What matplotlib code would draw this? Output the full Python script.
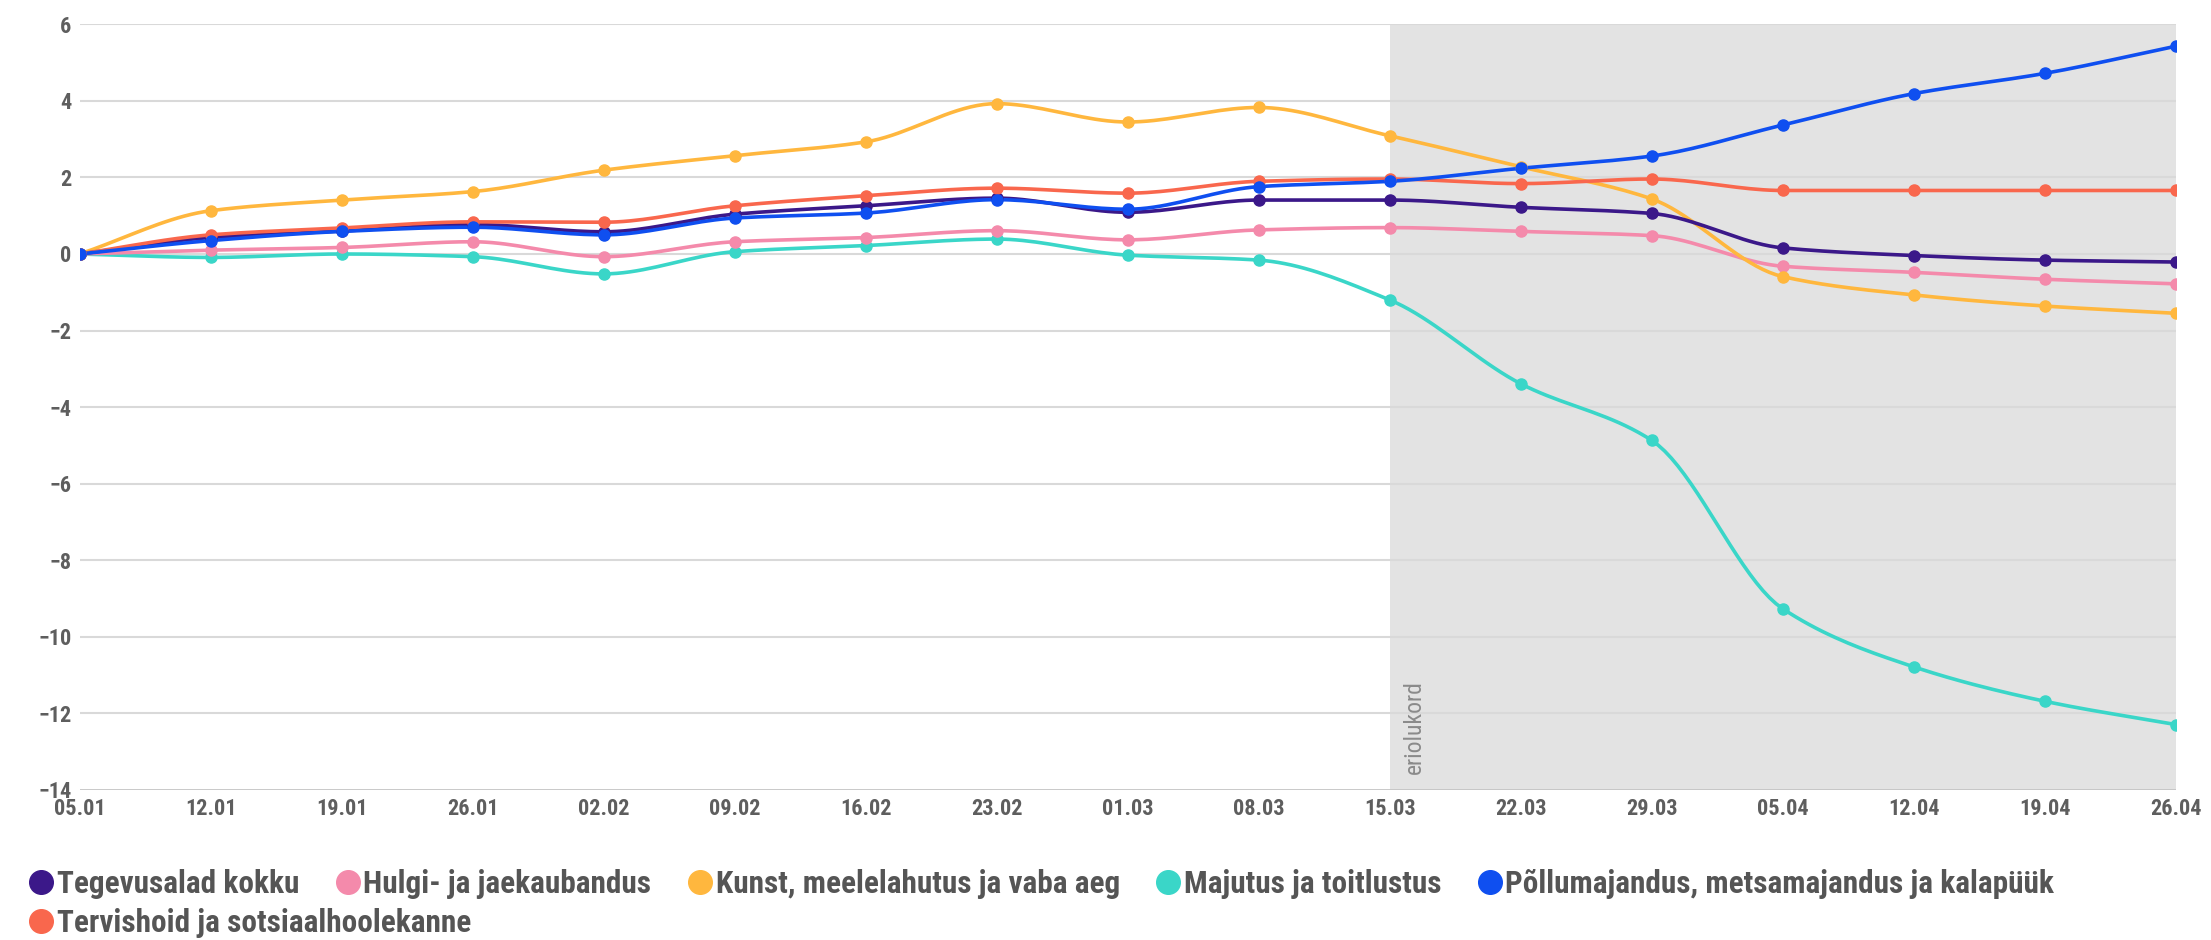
import numpy as np
import matplotlib
matplotlib.use("Agg")
from matplotlib import pyplot as plt
from matplotlib.lines import Line2D

dates = ["05.01", "12.01", "19.01", "26.01", "02.02", "09.02", "16.02", "23.02", "01.03",
         "08.03", "15.03", "22.03", "29.03", "05.04", "12.04", "19.04", "26.04"]

names = ["Tegevusalad kokku", "Hulgi- ja jaekaubandus", "Kunst, meelelahutus ja vaba aeg",
         "Majutus ja toitlustus", "Põllumajandus, metsamajandus ja kalapüük",
         "Tervishoid ja sotsiaalhoolekanne"]

kokku = [0, 0.43, 0.6, 0.77, 0.58, 1.04, 1.26, 1.46, 1.09, 1.41, 1.41, 1.22, 1.06, 0.16, -0.04, -0.16, -0.21]
hulgi = [0, 0.1, 0.17, 0.32, -0.07, 0.32, 0.43, 0.61, 0.37, 0.63, 0.69, 0.59, 0.48, -0.32, -0.48, -0.66, -0.78]
kunst = [0, 1.13, 1.41, 1.63, 2.19, 2.57, 2.93, 3.93, 3.45, 3.83, 3.09, 2.28, 1.44, -0.59, -1.07, -1.36, -1.55]
majutus = [0, -0.09, 0, -0.07, -0.52, 0.06, 0.22, 0.39, -0.03, -0.16, -1.2, -3.39, -4.87, -9.27, -10.79, -11.69, -12.3]
pollu = [0, 0.35, 0.59, 0.7, 0.5, 0.94, 1.07, 1.42, 1.17, 1.76, 1.9, 2.24, 2.56, 3.37, 4.19, 4.72, 5.43]
tervis = [0, 0.5, 0.68, 0.84, 0.83, 1.26, 1.52, 1.72, 1.59, 1.9, 1.96, 1.84, 1.96, 1.66, 1.66, 1.66, 1.66]

series = [kokku, hulgi, kunst, majutus, pollu, tervis]
colors = ["#3b1889", "#f48aab", "#ffb73e", "#3ad6c8", "#0f4ff0", "#f9674d"]
draw_order = [3, 1, 2, 0, 5, 4]

special_start = "15.03"
special_label = "eriolukord"

plt.rcParams['font.family'] = ['Roboto Condensed', 'Liberation Sans Narrow', 'Roboto', 'DejaVu Sans']


def monotone(x, y, n=20):
    # monotone cubic (Fritsch-Carlson) for drawing smooth lines
    x = np.asarray(x, float)
    y = np.asarray(y, float)
    h = np.diff(x)
    d = np.diff(y) / h
    m = np.zeros_like(y)
    m[0], m[-1] = d[0], d[-1]
    for i in range(1, len(y) - 1):
        if d[i - 1] * d[i] <= 0:
            m[i] = 0
        else:
            w1 = 2 * h[i] + h[i - 1]
            w2 = h[i] + 2 * h[i - 1]
            m[i] = (w1 + w2) / (w1 / d[i - 1] + w2 / d[i])
    xs, ys = [], []
    for i in range(len(x) - 1):
        t = np.linspace(0, 1, n, endpoint=False)
        h00 = 2 * t**3 - 3 * t**2 + 1
        h10 = t**3 - 2 * t**2 + t
        h01 = -2 * t**3 + 3 * t**2
        h11 = t**3 - t**2
        xs.append(x[i] + t * h[i])
        ys.append(h00 * y[i] + h10 * h[i] * m[i] + h01 * y[i + 1] + h11 * h[i] * m[i + 1])
    xs.append([x[-1]])
    ys.append([y[-1]])
    return np.concatenate(xs), np.concatenate(ys)


fig = plt.figure(figsize=(22.11, 9.40), dpi=100)
ax = fig.add_axes([0.036, 0.16, 0.948, 0.814])

x = np.arange(len(dates))
ax.axvspan(dates.index(special_start), x[-1], color="#e3e3e3", zorder=0, lw=0)

for i in draw_order:
    sx, sy = monotone(x, series[i])
    ax.plot(sx, sy, color=colors[i], lw=2.6, zorder=3, solid_capstyle="round")
    ax.plot(x, series[i], "o", color=colors[i], ms=8, zorder=4)

ax.set_xlim(x[0], x[-1])
ax.set_ylim(-14, 6)
ax.set_yticks(range(-14, 7, 2))
ax.set_xticks(x)
ax.set_xticklabels(dates)
for yv in range(-12, 7, 2):
    ax.axhline(yv, color="#d9d9d9", lw=1.5, zorder=1)
ax.axhline(-14, color="#c4c4c4", lw=2, zorder=1)
for s in ax.spines.values():
    s.set_visible(False)
ax.tick_params(length=0, labelsize=16, labelcolor="#5e5e5e", pad=6)
for lab in ax.get_xticklabels() + ax.get_yticklabels():
    lab.set_fontweight("bold")

ax.text(dates.index(special_start) + 0.1, -13.6, special_label, rotation=90, ha="left", va="bottom",
        fontsize=17, color="#8a8a8a", zorder=5)

handles = [Line2D([], [], marker="o", ls="", color=c, ms=17) for c in colors]
leg_kw = dict(loc="center left", frameon=False, handletextpad=0.0, handlelength=1.0,
              prop={"size": 22.5, "weight": "bold"}, labelcolor="#555555", borderaxespad=0)
fig.legend(handles[:5], names[:5], bbox_to_anchor=(0.006, 0.06), ncol=5, columnspacing=1.05, **leg_kw)
fig.legend(handles[5:], names[5:], bbox_to_anchor=(0.006, 0.018), ncol=1, **leg_kw)

fig.savefig("out.png", dpi=100)
